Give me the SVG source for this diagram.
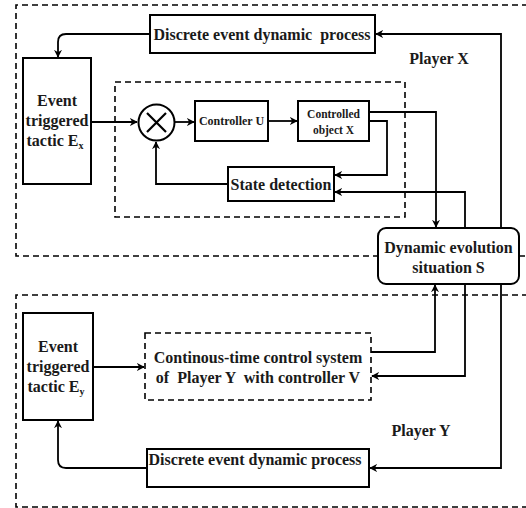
<svg xmlns="http://www.w3.org/2000/svg" width="526" height="508" viewBox="0 0 526 508">
<defs>
<style>
.box{fill:#fff;stroke:#000;stroke-width:2}
.dash{fill:none;stroke:#000;stroke-width:1.6;stroke-dasharray:6 4}
.ln{fill:none;stroke:#000;stroke-width:1.8}
text{font-family:'Liberation Serif','Times New Roman',serif;font-weight:bold;fill:#1a1a1a;text-anchor:middle}
.t16{font-size:16px}
.t12{font-size:12px}
.t11{font-size:11.5px}
</style>
<marker id="ah" viewBox="0 0 10 10" refX="9" refY="5" markerWidth="8" markerHeight="8" markerUnits="userSpaceOnUse" orient="auto">
<path d="M0,0 L10,5 L0,10 L3,5 Z" fill="#000"/>
</marker>
</defs>
<rect width="526" height="508" fill="#fff"/>
<g id="regions">
<path class="dash" d="M528,5 H16 V256 H378 M519,256 H528"/>
<path class="dash" d="M528,295 H16 V507 H528"/>
<rect id="inner-x" class="dash" x="115" y="82" width="290" height="135"/>
</g>
<g id="connectors">
<path class="ln" d="M150,34 H66 Q58,34 58,42 V57" marker-end="url(#ah)"/>
<path class="ln" d="M91,122 H137" marker-end="url(#ah)"/>
<path class="ln" d="M175,122 H194" marker-end="url(#ah)"/>
<path class="ln" d="M268,121 H297" marker-end="url(#ah)"/>
<path class="ln" d="M228,184 H156 V142" marker-end="url(#ah)"/>
<path class="ln" d="M369,121 H387 V175 H335" marker-end="url(#ah)"/>
<path class="ln" d="M369,112 H436 V227" marker-end="url(#ah)"/>
<path class="ln" d="M465,228 V192 H335" marker-end="url(#ah)"/>
<path class="ln" d="M501,228 V34 H376" marker-end="url(#ah)"/>
<path class="ln" d="M93,367 H144" marker-end="url(#ah)"/>
<path class="ln" d="M371,352 H435 V285" marker-end="url(#ah)"/>
<path class="ln" d="M465,284 V376 H372" marker-end="url(#ah)"/>
<path class="ln" d="M501,284 V468 H370" marker-end="url(#ah)"/>
<path class="ln" d="M147,468 H66 Q58,468 58,460 V421" marker-end="url(#ah)"/>
</g>
<g id="discrete-x">
<rect class="box" x="150" y="15" width="225" height="38"/>
<text class="t16" x="262" y="40" xml:space="preserve">Discrete event dynamic  process</text>
</g>
<g id="player-x-label"><text class="t16" x="439" y="64">Player X</text></g>
<g id="event-x">
<rect class="box" x="23" y="58" width="68" height="126"/>
<text class="t16" x="57" y="106">Event</text>
<text class="t16" x="57" y="126">triggered</text>
<text class="t16" x="55" y="146">tactic E<tspan font-size="10" dy="3">x</tspan></text>
</g>
<g id="sum">
<circle cx="156.5" cy="122.5" r="18" fill="#fff" stroke="#000" stroke-width="2"/>
<path d="M147,113 L166,132 M166,113 L147,132" stroke="#000" stroke-width="2.2"/>
</g>
<g id="controller-u">
<rect class="box" x="195" y="101" width="73" height="40"/>
<text class="t12" x="231.5" y="125">Controller U</text>
</g>
<g id="object-x">
<rect class="box" x="298" y="101" width="71" height="40"/>
<text class="t11" x="333.5" y="118">Controlled</text>
<text class="t11" x="333.5" y="134">object X</text>
</g>
<g id="state-detection">
<rect class="box" x="228" y="167" width="106" height="34"/>
<text class="t16" x="281" y="190">State detection</text>
</g>
<g id="situation-s">
<rect class="box" x="378" y="228" width="141" height="56" rx="8"/>
<text class="t16" x="448.5" y="253">Dynamic evolution</text>
<text class="t16" x="448.5" y="273">situation S</text>
</g>
<g id="event-y">
<rect class="box" x="23" y="313" width="70" height="107"/>
<text class="t16" x="58" y="352">Event</text>
<text class="t16" x="58" y="372">triggered</text>
<text class="t16" x="56" y="392">tactic E<tspan font-size="10" dy="3">y</tspan></text>
</g>
<g id="continuous-y">
<rect class="dash" x="145" y="333" width="226" height="67" fill="#fff"/>
<text class="t16" x="258" y="363">Continous-time control system</text>
<text class="t16" x="258" y="383" xml:space="preserve">of  Player Y  with controller V</text>
</g>
<g id="player-y-label"><text class="t16" x="421" y="436">Player Y</text></g>
<g id="discrete-y">
<rect class="box" x="147" y="449" width="222" height="38"/>
<text class="t16" x="255" y="465">Discrete event dynamic process</text>
</g>
</svg>
